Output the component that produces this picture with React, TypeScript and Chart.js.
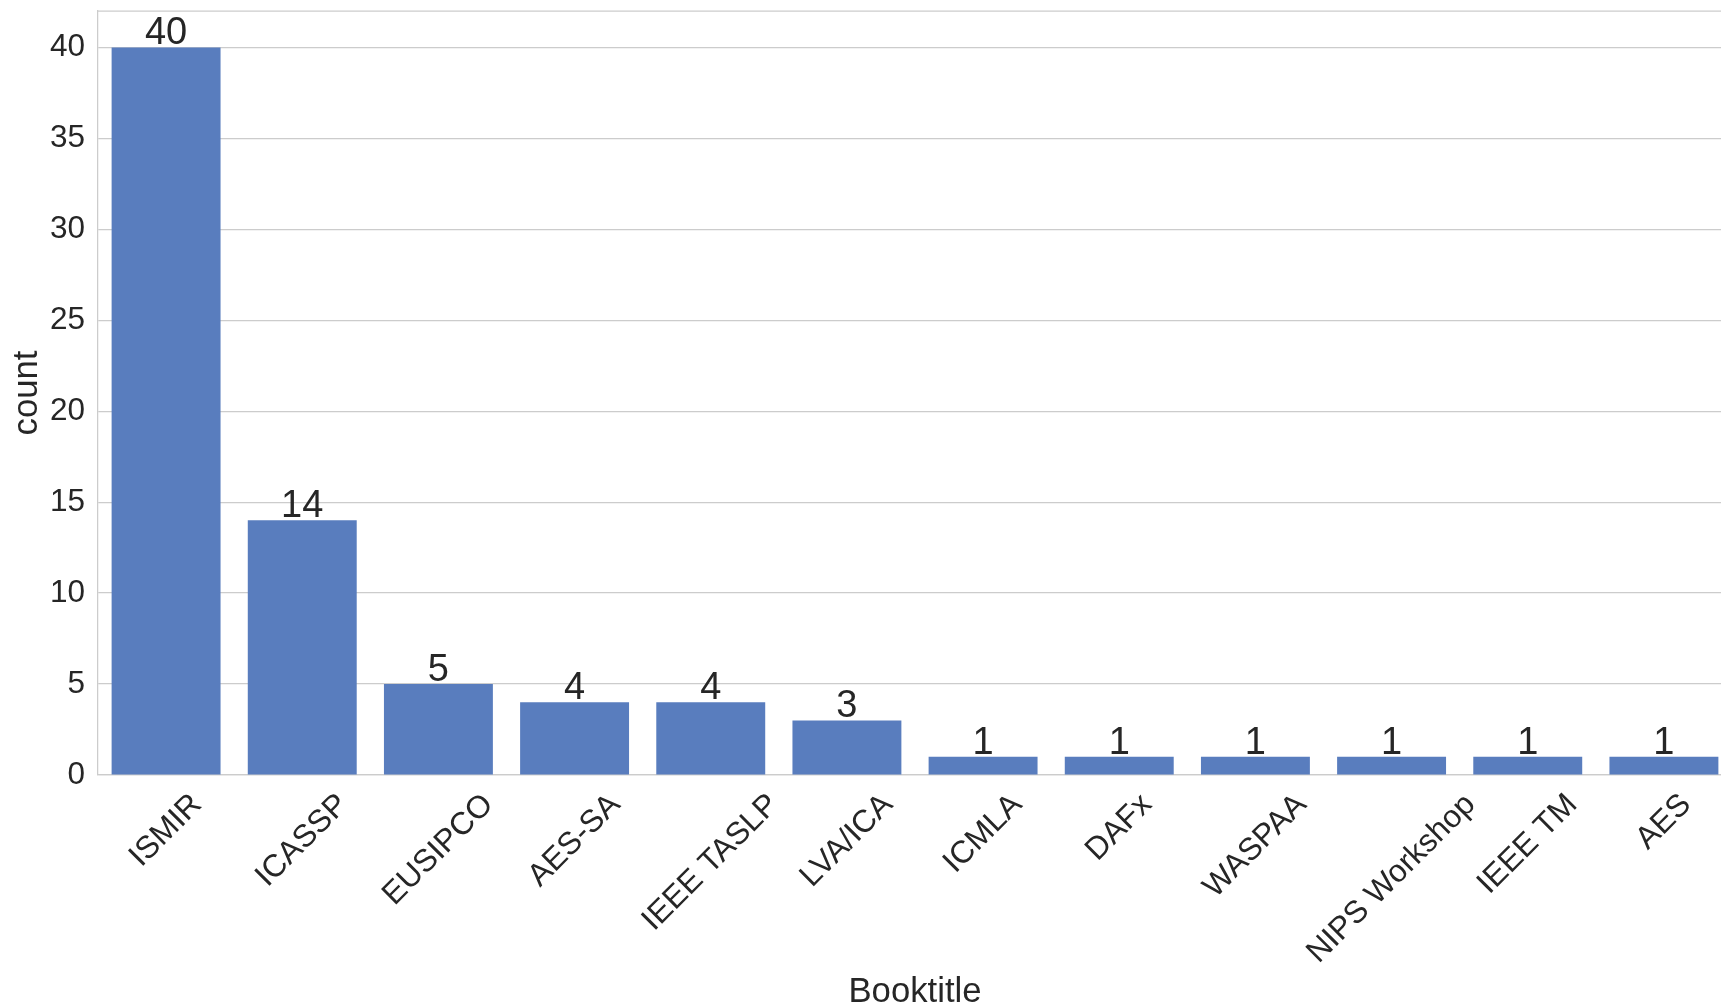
import React, { useEffect, useRef } from "react";
import { Chart, registerables } from "chart.js";

Chart.register(...registerables);

const categories = [
  "ISMIR",
  "ICASSP",
  "EUSIPCO",
  "AES-SA",
  "IEEE TASLP",
  "LVA/ICA",
  "ICMLA",
  "DAFx",
  "WASPAA",
  "NIPS Workshop",
  "IEEE TM",
  "AES",
];
const counts = [40, 14, 5, 4, 4, 3, 1, 1, 1, 1, 1, 1];
const yTickValues = [0, 5, 10, 15, 20, 25, 30, 35, 40];
const yMax = 42;
const xTitle = "Booktitle";
const yTitle = "count";

const FONT = '"Liberation Sans", Arial, Helvetica, sans-serif';
const TEXT = "#262626";
const GRID = "#cccccc";
const BAR = "#597DBE";

const CANVAS_W = 1732;
const CANVAS_H = 1007;

const labelPlugin = {
  id: "customLabels",
  afterDraw(chart: any) {
    const ctx = chart.ctx as CanvasRenderingContext2D;
    const xScale = chart.scales.x;
    const area = chart.chartArea;
    ctx.save();
    // top spine
    ctx.strokeStyle = GRID;
    ctx.lineWidth = 1.25;
    ctx.beginPath();
    ctx.moveTo(area.left, area.top);
    ctx.lineTo(area.right, area.top);
    ctx.stroke();

    // bar value labels
    const meta = chart.getDatasetMeta(0);
    ctx.fillStyle = TEXT;
    ctx.font = `38px ${FONT}`;
    ctx.textAlign = "center";
    ctx.textBaseline = "alphabetic";
    meta.data.forEach((bar: any, i: number) => {
      ctx.fillText(String(counts[i]), bar.x, bar.y - 3);
    });

    // rotated x tick labels (centered like matplotlib)
    const size = 31.5;
    ctx.font = `${size}px ${FONT}`;
    ctx.textBaseline = "middle";
    categories.forEach((c, i) => {
      const x = xScale.getPixelForValue(i);
      const w = ctx.measureText(c).width;
      const h = size * 1.15;
      const half = ((w + h) * Math.SQRT1_2) / 2;
      ctx.save();
      ctx.translate(x, area.bottom + 12 + half);
      ctx.rotate(-Math.PI / 4);
      ctx.fillText(c, 0, 0);
      ctx.restore();
    });

    // x axis title
    ctx.font = `34.7px ${FONT}`;
    ctx.textBaseline = "alphabetic";
    ctx.fillText(xTitle, (area.left + area.right) / 2, 1002);
    ctx.restore();
  },
};

export default function App() {
  const ref = useRef<HTMLCanvasElement | null>(null);

  useEffect(() => {
    if (!ref.current) return;
    const chart = new Chart(ref.current, {
      type: "bar",
      data: {
        labels: categories,
        datasets: [
          {
            data: counts,
            backgroundColor: BAR,
            borderWidth: 0,
            categoryPercentage: 1,
            barPercentage: 0.8,
          },
        ],
      },
      options: {
        responsive: false,
        maintainAspectRatio: false,
        animation: false,
        events: [],
        layout: { padding: { top: 11, left: 0, right: 0, bottom: 0 } },
        plugins: {
          legend: { display: false },
          tooltip: { enabled: false },
        },
        scales: {
          x: {
            type: "category",
            offset: true,
            grid: { display: false, drawTicks: false },
            border: { display: true, color: GRID, width: 1.25 },
            ticks: { display: false },
            afterFit: (scale: any) => {
              scale.height = 232;
              scale.paddingLeft = 0;
              scale.paddingRight = 0;
            },
          },
          y: {
            type: "linear",
            min: 0,
            max: yMax,
            grid: { color: GRID, lineWidth: 1.25, drawTicks: false },
            border: { display: true, color: GRID, width: 1.25 },
            afterBuildTicks: (scale: any) => {
              scale.ticks = yTickValues.map((v) => ({ value: v }));
            },
            ticks: {
              color: TEXT,
              padding: 13,
              font: { family: FONT, size: 31.5 },
            },
            title: {
              display: true,
              text: yTitle,
              color: TEXT,
              font: { family: FONT, size: 34.7 },
              padding: { top: 7, bottom: 0 },
            },
            afterFit: (scale: any) => {
              scale.width = 98;
              scale.paddingTop = 0;
              scale.paddingBottom = 0;
            },
          },
        },
      },
      plugins: [labelPlugin],
    });
    return () => chart.destroy();
  }, []);

  return (
    <div
      style={{
        position: "fixed",
        left: 0,
        top: 0,
        width: 1721,
        height: 1007,
        overflow: "hidden",
        background: "#ffffff",
      }}
    >
      <canvas
        ref={ref}
        width={CANVAS_W}
        height={CANVAS_H}
        style={{ width: CANVAS_W, height: CANVAS_H, display: "block" }}
      />
    </div>
  );
}
